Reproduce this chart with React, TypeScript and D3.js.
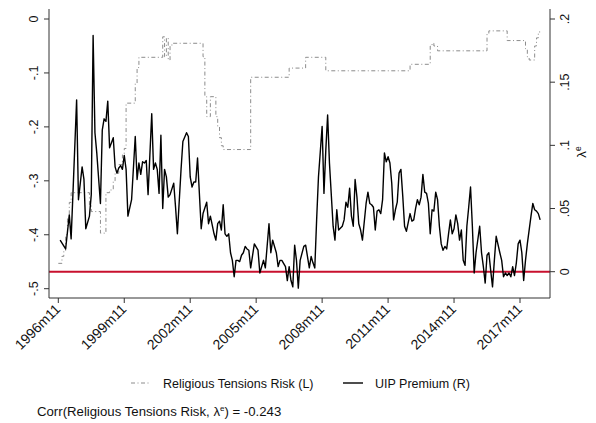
import * as d3 from 'd3';

// months counted from 1996m11
const uipMonth = [
  1, 4, 6, 7, 8, 10, 11, 13, 14, 15, 17, 18, 19, 20, 21, 23, 24, 25, 26, 27, 28, 30, 31, 32, 33, 34, 35, 36, 37, 38,
  40, 42, 43, 44, 45, 46, 47, 48, 49, 51, 52, 53, 54, 55, 56, 57, 58, 59, 60, 61, 63, 64, 65, 67, 68, 70, 71, 72, 73,
  74, 75, 76, 78, 79, 81, 82, 83, 84, 85, 86, 87, 88, 89, 90, 91, 92, 93, 94, 95, 96, 97, 98, 99, 100, 101, 102, 103,
  104, 105, 107, 109, 110, 111, 112, 113, 115, 116, 117, 119, 120, 121, 122, 124, 125, 126, 127, 128, 129, 130, 131,
  132, 134, 135, 137, 138, 139, 140, 141, 142, 144, 145, 146, 147, 148, 150, 151, 152, 153, 155, 156, 157, 158, 159,
  160, 161, 162, 163, 164, 165, 166, 168, 169, 170, 171, 172, 173, 174, 175, 176, 177, 178, 179, 180, 181, 182, 183,
  184, 185, 186, 187, 188, 189, 190, 192, 193, 194, 195, 196, 197, 198, 199, 200, 201, 202, 203, 204, 205, 206, 207,
  208, 209, 210, 211, 212, 213, 214, 215, 216, 217, 218, 219, 220, 221, 222, 223, 224, 225, 226, 227, 228, 230, 231,
  232, 233, 234, 235, 236, 237, 238, 239, 241, 242, 243, 244, 245, 246, 247, 248, 249, 250, 251, 252, 253, 254, 255,
  256, 258, 259, 260, 261, 262, 263,
];
const uipValue = [
  0.025, 0.018, 0.045, 0.026, 0.062, 0.136, 0.057, 0.083, 0.073, 0.034, 0.044, 0.061, 0.187, 0.11, 0.094, 0.054, 0.112,
  0.121, 0.119, 0.135, 0.098, 0.106, 0.083, 0.078, 0.082, 0.084, 0.081, 0.092, 0.081, 0.044, 0.057, 0.107, 0.073, 0.086,
  0.077, 0.087, 0.086, 0.088, 0.061, 0.125, 0.081, 0.086, 0.081, 0.062, 0.108, 0.05, 0.081, 0.075, 0.059, 0.061, 0.07,
  0.051, 0.03, 0.081, 0.103, 0.11, 0.107, 0.075, 0.067, 0.071, 0.071, 0.09, 0.034, 0.046, 0.055, 0.038, 0.044, 0.037,
  0.03, 0.025, 0.038, 0.04, 0.033, 0.053, 0.03, 0.028, 0.03, 0.015, 0.009, -0.004, 0.009, 0.009, 0.008, 0.013, 0.015,
  0.02, 0.018, 0.017, 0.003, 0.022, 0.017, -0.001, 0.004, 0.009, 0.003, 0.038, 0.015, 0.025, 0.015, 0.004, 0.009, 0.009,
  0.004, -0.007, 0.004, -0.007, -0.012, 0.021, 0.009, -0.013, 0.009, 0.02, 0.021, 0.003, 0.012, 0.007, 0.003, 0.041,
  0.075, 0.115, 0.062, 0.096, 0.124, 0.086, 0.036, 0.025, 0.049, 0.033, 0.036, 0.041, 0.055, 0.051, 0.066, 0.044, 0.036,
  0.073, 0.059, 0.038, 0.033, 0.025, 0.054, 0.063, 0.054, 0.053, 0.051, 0.033, 0.048, 0.049, 0.046, 0.057, 0.094, 0.087,
  0.091, 0.086, 0.07, 0.041, 0.049, 0.055, 0.078, 0.081, 0.06, 0.036, 0.032, 0.046, 0.04, 0.041, 0.05, 0.057, 0.053,
  0.059, 0.077, 0.063, 0.062, 0.054, 0.03, 0.049, 0.048, 0.063, 0.057, 0.036, 0.022, 0.017, 0.02, 0.018, 0.03, 0.041,
  0.03, 0.034, 0.045, 0.038, 0.025, 0.033, 0.009, 0.005, 0.036, 0.051, 0.067, 0.036, -0.001, 0.015, 0.036, 0.015, 0.004,
  -0.009, 0.013, 0.015, 0.001, -0.012, 0.009, 0.028, 0.015, 0.009, -0.004, -0.001, -0.003, -0.001, -0.004, 0.004,
  -0.003, 0.007, 0.022, 0.025, 0.015, -0.007, 0.009, 0.022, 0.044, 0.054, 0.049, 0.048, 0.046, 0.041,
];

// religious tensions risk: month where each level starts
const rtrMonth = [
  0, 2, 3, 4, 5, 6, 7, 17, 18, 23, 26, 28, 30, 31, 33, 35, 36, 37, 42, 43, 44, 57, 58, 59, 60, 61, 62, 79, 80, 81, 83,
  86, 87, 88, 89, 90, 105, 126, 135, 146, 192, 203, 204, 205, 207, 234, 235, 245, 255, 256, 257, 260, 261, 262, 263,
];
const rtrValue = [
  -0.453, -0.44, -0.43, -0.4, -0.37, -0.34, -0.322, -0.345, -0.357, -0.397, -0.322, -0.317, -0.3, -0.286, -0.27,
  -0.252, -0.24, -0.156, -0.12, -0.09, -0.071, -0.033, -0.07, -0.035, -0.076, -0.05, -0.045, -0.07, -0.144, -0.181,
  -0.144, -0.181, -0.2, -0.22, -0.235, -0.242, -0.108, -0.091, -0.071, -0.096, -0.084, -0.05, -0.045, -0.05, -0.059,
  -0.027, -0.022, -0.04, -0.055, -0.07, -0.076, -0.05, -0.035, -0.024, -0.024,
];

const xTickMonths = [0, 36, 72, 108, 144, 180, 216, 252];
const xTickLabels = ['1996m11', '1999m11', '2002m11', '2005m11', '2008m11', '2011m11', '2014m11', '2017m11'];
const leftTicks = [0, -0.1, -0.2, -0.3, -0.4, -0.5];
const leftTickLabels = ['0', '-.1', '-.2', '-.3', '-.4', '-.5'];
const rightTicks = [0, 0.05, 0.1, 0.15, 0.2];
const rightTickLabels = ['0', '.05', '.1', '.15', '.2'];

const W = 596;
const H = 423;
const left = 49;
const right = 550;
const top = 9;
const bottom = 298;
const font = '"Liberation Sans", Arial, sans-serif';
const grey = '#8c8c8c';
const dash = '4 2.5 1 2.5';

const x = d3.scaleLinear().domain([0, 252]).range([58.3, 520]);
const yL = d3.scaleLinear().domain([-0.5, 0]).range([288.7, 19]);
const yR = d3.scaleLinear().domain([0, 0.2]).range([271.7, 19]);

const App = () => {
  const uipLine = d3
    .line<number>()
    .x(i => x(uipMonth[i]))
    .y(i => yR(uipValue[i]));
  const rtrLine = d3
    .line<number>()
    .x(i => x(rtrMonth[i]))
    .y(i => yL(rtrValue[i]))
    .curve(d3.curveStepAfter);

  return (
    <svg
      width={W}
      height={H}
      style={{ position: 'absolute', left: 0, top: 0, background: '#fff' }}
      fontFamily={font}
    >
      <rect width={W} height={H} fill="#fff" />
      <path d={rtrLine(d3.range(rtrMonth.length)) ?? ''} fill="none" stroke={grey} strokeWidth={1} strokeDasharray={dash} />
      <line x1={left} x2={right} y1={yR(0)} y2={yR(0)} stroke="#c8102e" strokeWidth={2} />
      <path d={uipLine(d3.range(uipMonth.length)) ?? ''} fill="none" stroke="#000" strokeWidth={1.4} strokeLinejoin="round" />

      {/* axes */}
      <line x1={left} x2={left} y1={top} y2={bottom} stroke="#333" strokeWidth={1} />
      <line x1={right} x2={right} y1={top} y2={bottom} stroke="#333" strokeWidth={1} />
      <line x1={left} x2={right} y1={bottom} y2={bottom} stroke="#333" strokeWidth={1} />

      {leftTicks.map((t, i) => (
        <g key={'l' + i}>
          <line x1={left - 5} x2={left} y1={yL(t)} y2={yL(t)} stroke="#333" />
          <text
            transform={`translate(38,${yL(t)}) rotate(-90)`}
            textAnchor="middle"
            fontSize={12.5}
            fill="#111"
          >
            {leftTickLabels[i]}
          </text>
        </g>
      ))}
      {rightTicks.map((t, i) => (
        <g key={'r' + i}>
          <line x1={right} x2={right + 5} y1={yR(t)} y2={yR(t)} stroke="#333" />
          <text
            transform={`translate(568.5,${yR(t)}) rotate(-90)`}
            textAnchor="middle"
            fontSize={12.5}
            fill="#111"
          >
            {rightTickLabels[i]}
          </text>
        </g>
      ))}
      <text transform="translate(585.5,152) rotate(-90)" textAnchor="middle" fontSize={13.5} fill="#111">
        λ<tspan fontSize={8.5} dy={-5}>e</tspan>
      </text>

      {xTickMonths.map((m, i) => (
        <g key={'x' + i}>
          <line x1={x(m)} x2={x(m)} y1={bottom} y2={bottom + 5} stroke="#333" />
          <text
            transform={`translate(${x(m) + 3},${bottom + 12}) rotate(-45)`}
            textAnchor="end"
            fontSize={14}
            fill="#111"
          >
            {xTickLabels[i]}
          </text>
        </g>
      ))}

      {/* legend */}
      <line x1={131} x2={150} y1={383} y2={383} stroke={grey} strokeWidth={1} strokeDasharray={dash} />
      <text x={163} y={387.5} fontSize={12.5} fill="#111">
        Religious Tensions Risk (L)
      </text>
      <line x1={343} x2={363} y1={383} y2={383} stroke="#000" strokeWidth={1.4} />
      <text x={375} y={387.5} fontSize={12.5} fill="#111">
        UIP Premium (R)
      </text>

      <text x={37} y={416} fontSize={13.2} fill="#111">
        Corr(Religious Tensions Risk, λ<tspan fontSize={8} dy={-5}>e</tspan>
        <tspan dy={5}>) = -0.243</tspan>
      </text>
    </svg>
  );
};

export default App;
